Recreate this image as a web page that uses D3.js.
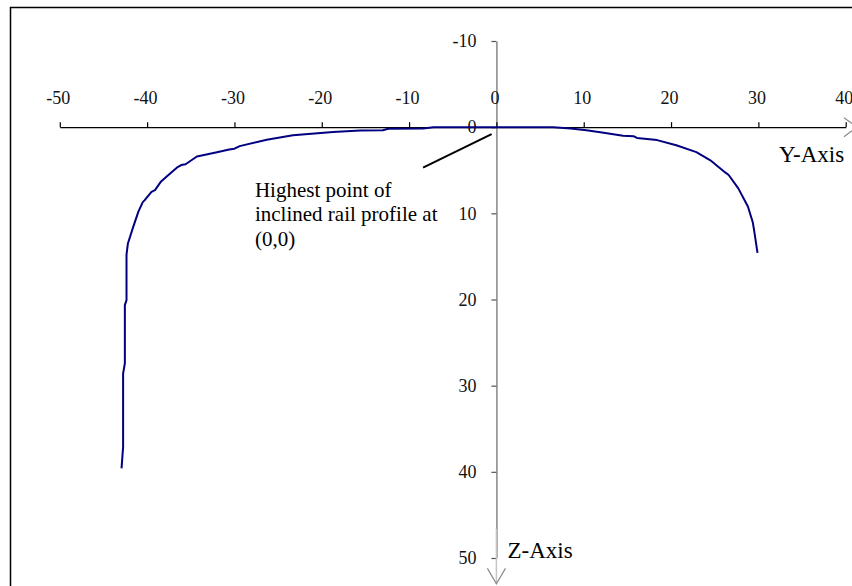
<!DOCTYPE html>
<html>
<head>
<meta charset="utf-8">
<script src="https://cdn.jsdelivr.net/npm/d3@7"></script>
<style>
  html, body { margin: 0; padding: 0; background: #fff; }
  svg { display: block; font-family: "Liberation Serif", "Times New Roman", serif; }
</style>
</head>
<body>
<svg id="chart" width="852" height="586"></svg>
<script>
// ---- data ----
const yTicks = [-50, -40, -30, -20, -10, 0, 10, 20, 30, 40];
const zTicks = [-10, 0, 10, 20, 30, 40, 50];
// rail profile: lateral coordinate (Y) and vertical coordinate (Z, positive downward)
const profileY = [-42.93, -42.75, -42.75, -42.55, -42.55, -42.36, -42.36, -42.2, -41.6, -41.0, -40.5, -40.3, -39.5, -39.1, -38.4, -37.4, -36.6, -36.1, -35.6, -34.3, -32.0, -30.6, -30.0, -29.4, -26.3, -23.3, -18.7, -15.6, -13.0, -12.4, -8.4, -7.2, -3, 0, 3, 6.5, 8.5, 10.3, 11.9, 14.5, 15.7, 16.1, 18.4, 20.6, 22.9, 24.5, 26.2, 26.6, 27.7, 28.8, 29.35, 29.5, 29.9];
const profileZ = [39.6, 37.1, 28.6, 27.4, 20.65, 20.07, 14.8, 13.5, 11.6, 9.8, 8.7, 8.5, 7.5, 7.3, 6.3, 5.4, 4.7, 4.4, 4.3, 3.4, 2.9, 2.6, 2.5, 2.2, 1.45, 0.95, 0.55, 0.38, 0.35, 0.18, 0.15, 0.0, 0, 0, 0, 0.0, 0.15, 0.35, 0.6, 1.0, 1.05, 1.25, 1.5, 2.1, 2.9, 3.85, 5.25, 5.55, 7.1, 9.2, 11.0, 11.9, 14.6];
const annotationLines = ["Highest point of", "inclined rail profile at", "(0,0)"];
const yAxisTitle = "Y-Axis";
const zAxisTitle = "Z-Axis";

const FONT = '"Liberation Serif", "Times New Roman", serif';
const fmt = d => String(d);   // plain hyphen-minus like the original

// ---- scales ----
const svg = d3.select("#chart");
const x = d3.scaleLinear().domain([-50, 40]).range([59.8, 845.7]);
const z = d3.scaleLinear().domain([-10, 50]).range([41, 558]);

// frame
svg.append("rect")
  .attr("x", 10.5).attr("y", 7.5).attr("width", 900).attr("height", 700)
  .attr("fill", "none").attr("stroke", "#000").attr("stroke-width", 1.5);

// vertical (Z) axis
const zAxisG = svg.append("g")
  .attr("transform", `translate(${x(0)},0)`)
  .call(d3.axisLeft(z).tickValues(zTicks).tickFormat(fmt).tickSize(5).tickSizeOuter(0).tickPadding(15));
zAxisG.attr("font-family", FONT);
zAxisG.select(".domain").attr("stroke", "#868686").attr("stroke-width", 1.5);
zAxisG.selectAll(".tick line").attr("stroke", "#555").attr("stroke-width", 1.2);
zAxisG.selectAll(".tick text").attr("font-size", 18).attr("fill", "#111").attr("font-family", FONT);
// arrow continuation of Z axis
svg.append("line")
  .attr("x1", x(0)).attr("x2", x(0)).attr("y1", z(46.6)).attr("y2", z(53))
  .attr("stroke", "#c4c4c4").attr("stroke-width", 1.5);
svg.append("path")
  .attr("d", `M${x(0) - 9},${z(51.2)} L${x(0)},${z(53)} L${x(0) + 9},${z(51.2)}`)
  .attr("fill", "none").attr("stroke", "#8a8a8a").attr("stroke-width", 1.2);

// horizontal (Y) axis
const yAxisG = svg.append("g")
  .attr("transform", `translate(0,${z(0)})`)
  .call(d3.axisTop(x).tickValues(yTicks).tickFormat(fmt).tickSize(5).tickSizeOuter(0).tickPadding(18));
yAxisG.attr("font-family", FONT);
yAxisG.select(".domain").attr("stroke", "#000").attr("stroke-width", 1.3);
yAxisG.selectAll(".tick line").attr("stroke", "#000").attr("stroke-width", 1.2);
yAxisG.selectAll(".tick text").attr("font-size", 18).attr("fill", "#111").attr("dx", -2).attr("font-family", FONT);
// arrow at right end of Y axis
svg.append("path")
  .attr("d", `M${x(39.8)},${z(-1.1)} L${x(41.3)},${z(0)} L${x(39.8)},${z(1.1)}`)
  .attr("fill", "none").attr("stroke", "#8a8a8a").attr("stroke-width", 1.2);

// profile curve
const pts = profileY.map((v, i) => [v, profileZ[i]]);
svg.append("path")
  .datum(pts)
  .attr("d", d3.line().x(d => x(d[0])).y(d => z(d[1])))
  .attr("fill", "none").attr("stroke", "#000080").attr("stroke-width", 2)
  .attr("stroke-linejoin", "round");

// annotation leader
svg.append("line")
  .attr("x1", x(-8.4)).attr("y1", z(4.7)).attr("x2", x(-0.55)).attr("y2", z(0.8))
  .attr("stroke", "#000").attr("stroke-width", 2);

const ann = svg.append("text")
  .attr("x", x(-27.65)).attr("y", z(8.1))
  .attr("font-size", 21).attr("fill", "#000").attr("font-family", FONT);
annotationLines.forEach((t, i) => {
  ann.append("tspan").attr("x", x(-27.65)).attr("dy", i === 0 ? 0 : 24.5).text(t);
});

// axis titles
svg.append("text").attr("x", 779).attr("y", 161.5).attr("font-family", FONT)
  .attr("font-size", 23).attr("fill", "#000").text(yAxisTitle);
svg.append("text").attr("x", 507.5).attr("y", 558.3).attr("font-family", FONT)
  .attr("font-size", 23).attr("fill", "#000").text(zAxisTitle);
</script>
</body>
</html>
